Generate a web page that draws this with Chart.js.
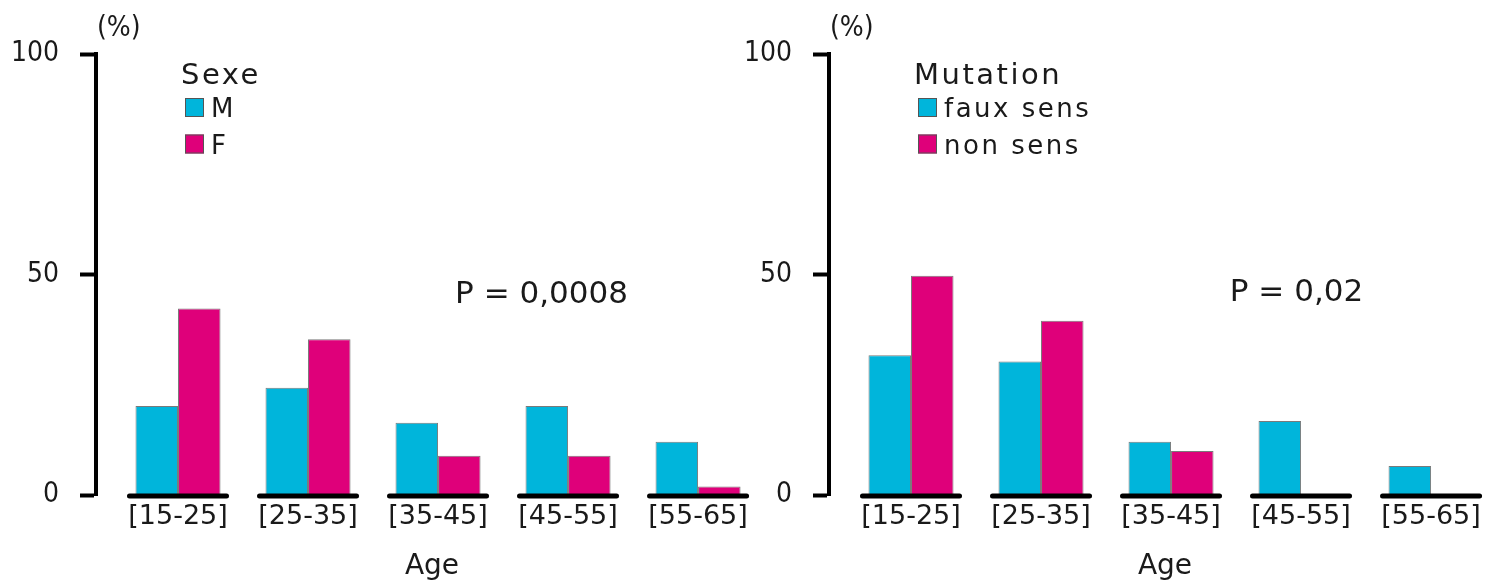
<!DOCTYPE html>
<html>
<head>
<meta charset="utf-8">
<script src="https://cdn.jsdelivr.net/npm/chart.js@4.4.1/dist/chart.umd.min.js"></script>
<style>
  html, body { margin: 0; padding: 0; background: #fff; overflow: hidden; }
  #wrap { position: relative; width: 1489px; height: 587px; overflow: hidden; background: #fff; }
  canvas { position: absolute; top: 0; }
  #c1 { left: 0; }
  #c2 { left: 733px; }
</style>
</head>
<body>
<div id="wrap">
  <canvas id="c1" width="778" height="587"></canvas>
  <canvas id="c2" width="778" height="587"></canvas>
</div>
<script>
// ---- data ----
const categories = ['[15-25]', '[25-35]', '[35-45]', '[45-55]', '[55-65]'];
const yTicks = [0, 50, 100];

const sexeTitle = 'Sexe';
const sexeLabels = ['M', 'F'];
const sexeM = [20.2, 24.3, 16.4, 20.2, 12.1];
const sexeF = [42.3, 35.3, 8.9, 8.9, 1.9];
const sexeP = 'P = 0,0008';

const mutTitle = 'Mutation';
const mutLabels = ['faux sens', 'non sens'];
const mutFaux = [31.7, 30.3, 12.1, 16.8, 6.6];
const mutNon = [49.7, 39.5, 10.0, 0, 0];
const mutP = 'P = 0,02';

const axisTitle = 'Age';
const unitLabel = '(%)';

// ---- styles ----
const CYAN = 'rgb(0,181,219)';
const MAGENTA = 'rgb(223,0,122)';
const INK = '#1a1a1a';
const NARROW = "'Liberation Sans Narrow', 'DejaVu Sans Condensed', 'Liberation Sans', sans-serif";
const SANS = "'DejaVu Sans', 'Liberation Sans', sans-serif";

const decor = {
  id: 'decor',
  afterDatasetsDraw(chart, args, o) {
    const ctx = chart.ctx;
    const ys = chart.scales.y;
    const y0 = ys.getPixelForValue(0);
    const m0 = chart.getDatasetMeta(0), m1 = chart.getDatasetMeta(1);
    ctx.save();
    ctx.strokeStyle = '#000';
    ctx.lineWidth = 5;
    ctx.lineCap = 'round';
    m0.data.forEach((b, i) => {
      const b2 = m1.data[i];
      const l = b.x - b.width / 2 - o.segExtend;
      const r = b2.x + b2.width / 2 + o.segExtend;
      ctx.beginPath();
      ctx.moveTo(l, y0 + 1);
      ctx.lineTo(r, y0 + 1);
      ctx.stroke();
    });
    ctx.restore();
  },
  afterDraw(chart, args, o) {
    const ctx = chart.ctx;
    const xs = chart.scales.x, ys = chart.scales.y;
    const area = chart.chartArea;
    ctx.save();
    ctx.fillStyle = INK;
    ctx.textAlign = 'left';
    ctx.textBaseline = 'alphabetic';
    // unit label
    ctx.font = `28px ${NARROW}`;
    ctx.fillText(unitLabel, area.left + 1, 36);
    // legend
    try { ctx.letterSpacing = '2.5px'; } catch (e) {}
    ctx.font = `29px ${SANS}`;
    ctx.fillText(o.legendTitle, o.legendX - 4, 84);
    chart.data.datasets.forEach((ds, i) => {
      const top = o.rowTop + i * o.rowGap;
      ctx.fillStyle = ds.backgroundColor;
      ctx.fillRect(o.legendX, top, 19, 19);
      ctx.strokeStyle = '#555';
      ctx.lineWidth = 1;
      ctx.strokeRect(o.legendX + 0.5, top + 0.5, 18, 18);
      ctx.fillStyle = INK;
      ctx.font = `26px ${SANS}`;
      ctx.fillText(ds.label, o.legendX + 26, top + 19);
    });
    try { ctx.letterSpacing = '0px'; } catch (e) {}
    // p value
    ctx.font = `31px ${SANS}`;
    ctx.textAlign = 'center';
    ctx.fillText(o.pText, xs.getPixelForValue(o.pAt[0]), ys.getPixelForValue(o.pAt[1]));
    ctx.restore();
  }
};

function makeChart(id, labels, a, b, title, pText, pAt) {
  const xMin = -0.6308, xMax = 4.538;
  return new Chart(document.getElementById(id), {
    type: 'bar',
    data: {
      datasets: [
        { label: labels[0], data: a.map((v, i) => ({ x: i, y: v })), backgroundColor: CYAN },
        { label: labels[1], data: b.map((v, i) => ({ x: i, y: v })), backgroundColor: MAGENTA }
      ]
    },
    options: {
      responsive: false,
      animation: false,
      events: [],
      layout: { padding: { left: 0, top: 54, right: 10, bottom: 0 } },
      datasets: {
        bar: {
          borderColor: '#7a7a7a',
          borderWidth: 1,
          categoryPercentage: 0.654,
          barPercentage: 1
        }
      },
      scales: {
        x: {
          type: 'linear',
          offset: false,
          min: xMin,
          max: xMax,
          bounds: 'data',
          grid: { display: false, drawTicks: false, offset: false },
          border: { display: false },
          afterBuildTicks: s => { s.ticks = categories.map((_, i) => ({ value: i })); },
          ticks: {
            autoSkip: false,
            maxRotation: 0,
            callback: v => categories[v],
            font: { family: SANS, size: 27 },
            color: INK,
            padding: 6
          },
          title: {
            display: true,
            text: axisTitle,
            font: { family: SANS, size: 28 },
            color: INK,
            padding: { top: 11, bottom: 3 }
          }
        },
        y: {
          min: 0,
          max: 100,
          afterBuildTicks: s => { s.ticks = yTicks.map(v => ({ value: v })); },
          afterFit: s => { s.width = 96; },
          grid: {
            drawOnChartArea: false,
            drawTicks: true,
            tickLength: 16,
            tickWidth: 4,
            tickColor: '#000'
          },
          border: { display: true, width: 4, color: '#000' },
          ticks: {
            font: { family: NARROW, size: 28 },
            color: INK,
            padding: 21
          }
        }
      },
      plugins: {
        legend: { display: false },
        tooltip: { enabled: false },
        decor: {
          segExtend: 6,
          legendTitle: title,
          legendX: 185,
          rowTop: 98,
          rowGap: 36.5,
          pText: pText,
          pAt: pAt
        }
      }
    },
    plugins: [decor]
  });
}

makeChart('c1', sexeLabels, sexeM, sexeF, sexeTitle, sexeP, [2.796, 43.5]);
makeChart('c2', mutLabels, mutFaux, mutNon, mutTitle, mutP, [2.965, 44.1]);
</script>
</body>
</html>
